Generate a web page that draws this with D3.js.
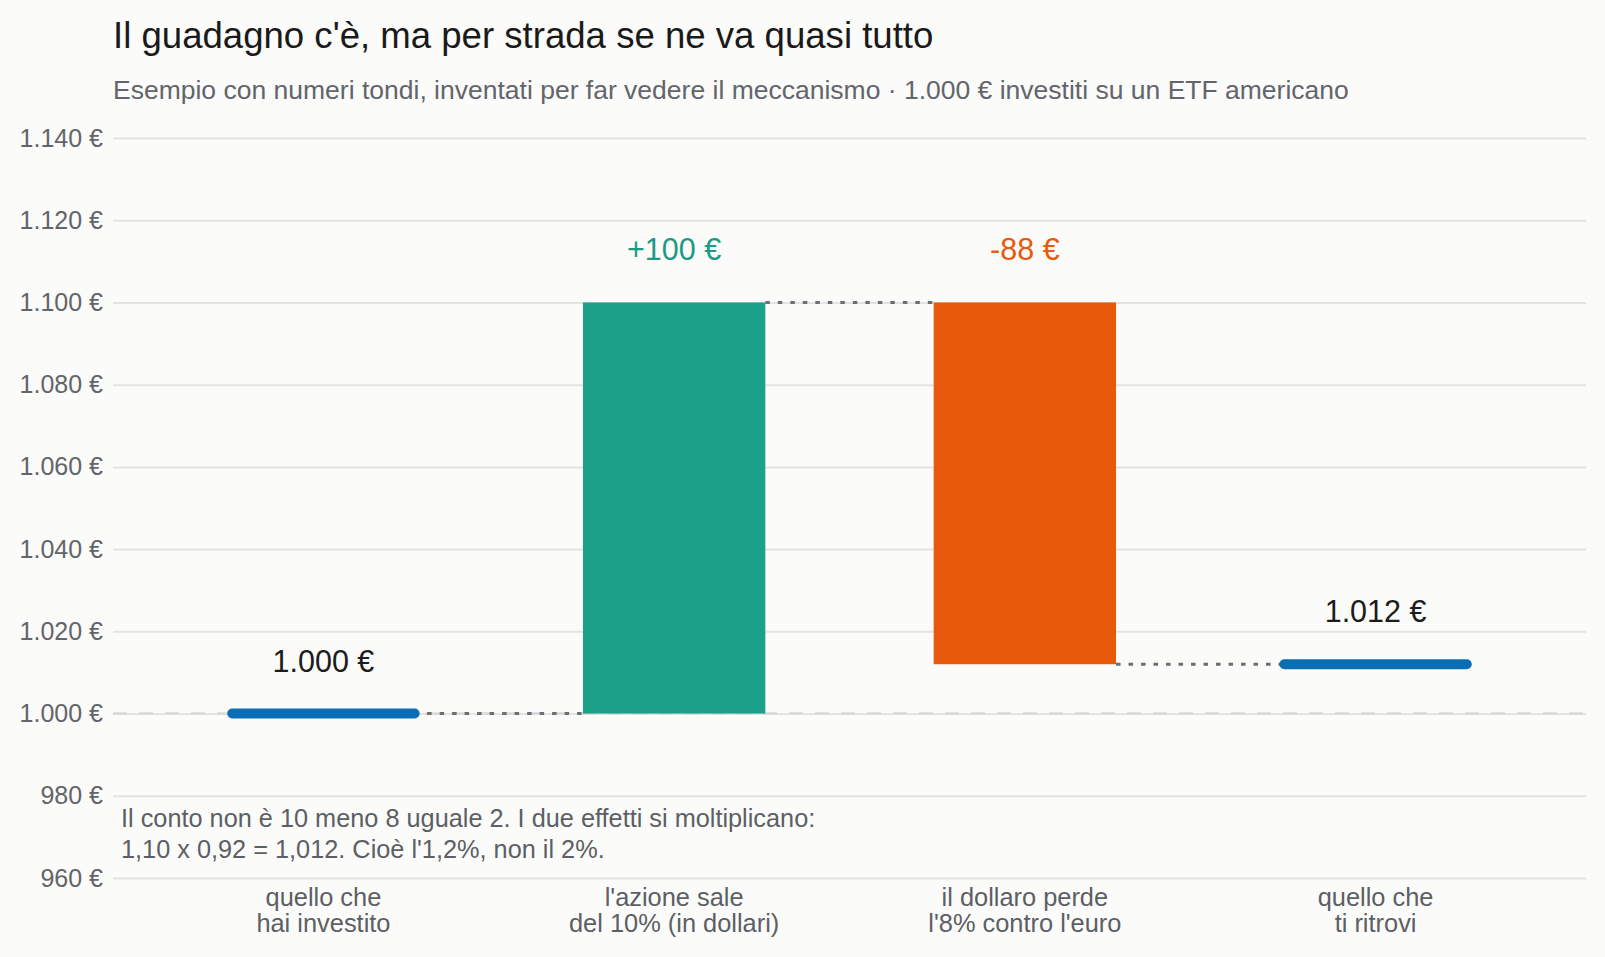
<!DOCTYPE html>
<html lang="it">
<head>
    <meta charset="UTF-8">
    <title>Il guadagno c'è, ma per strada se ne va quasi tutto</title>
    <script src="https://d3js.org/d3.v7.min.js"></script>
    <style>
        body {
            margin: 0;
            background: #fbfbf9;
            font-family: 'Liberation Sans', Arial, Helvetica, sans-serif;
        }
        svg { display: block; }
        .grid line { stroke: #e3e3e1; stroke-width: 2; }
        .grid path { display: none; }
        .y-axis text { fill: #62656b; font-size: 25px; }
        .x-label { fill: #5c5f65; font-size: 25.4px; }
    </style>
</head>
<body>
<svg id="chart" width="1605" height="957"></svg>
<script>
// data
const categories = [
    ['quello che', 'hai investito'],
    ["l'azione sale", 'del 10% (in dollari)'],
    ['il dollaro perde', "l'8% contro l'euro"],
    ['quello che', 'ti ritrovi']
];
const steps = [1000, 100, -88, 1012];
const stepTypes = ['total', 'up', 'down', 'total'];
const yTicks = [960, 980, 1000, 1020, 1040, 1060, 1080, 1100, 1120, 1140];

const colors = { total: '#0b6eb4', up: '#1ba08a', down: '#e8590c' };
const labelColors = { total: '#1c1c1c', up: '#1b9a85', down: '#e8590c' };

const width = 1605, height = 957;
const margin = { top: 138, right: 19, bottom: 79, left: 113 };

const svg = d3.select('#chart');

const it = d3.formatLocale({ decimal: ',', thousands: '.', grouping: [3], currency: ['', ' €'], minus: '-' });
const euro = v => it.format(',.0f')(v) + ' €';
const signed = v => (v > 0 ? '+' : '') + it.format(',.0f')(v) + ' €';

// running levels for the waterfall
let level = 0;
const bars = steps.map((v, i) => {
    let y0, y1;
    if (stepTypes[i] === 'total') {
        y0 = v; y1 = v; level = v;
    } else {
        y0 = level; y1 = level + v; level = y1;
    }
    return { i, v, type: stepTypes[i], y0, y1 };
});

const x = d3.scaleBand()
    .domain(d3.range(categories.length))
    .range([margin.left, width - margin.right])
    .paddingInner(0.48)
    .paddingOuter(0.34);

const y = d3.scaleLinear()
    .domain([960, 1140])
    .range([height - margin.bottom, margin.top]);

// title
svg.append('text')
    .attr('x', margin.left).attr('y', 48)
    .attr('fill', '#1a1a1a')
    .style('font-size', '36.6px')
    .text("Il guadagno c'è, ma per strada se ne va quasi tutto");

svg.append('text')
    .attr('x', margin.left).attr('y', 99)
    .attr('fill', '#62656b')
    .style('font-size', '26.5px')
    .text('Esempio con numeri tondi, inventati per far vedere il meccanismo · 1.000 € investiti su un ETF americano');

// grid + y labels
svg.append('g')
    .attr('class', 'grid')
    .attr('transform', `translate(${margin.left},0)`)
    .call(d3.axisLeft(y).tickValues(yTicks).tickSize(-(width - margin.left - margin.right)).tickFormat(''))
    .call(g => g.selectAll('line').attr('x1', 0));

svg.append('g')
    .attr('class', 'y-axis')
    .attr('transform', `translate(${margin.left},0)`)
    .call(d3.axisLeft(y).tickValues(yTicks).tickSize(0).tickPadding(10).tickFormat(euro))
    .call(g => g.select('.domain').remove());

// dashed baseline at the starting amount
svg.append('line')
    .attr('x1', margin.left).attr('x2', width - margin.right)
    .attr('y1', y(steps[0])).attr('y2', y(steps[0]))
    .attr('stroke', '#d9d9d7')
    .attr('stroke-width', 2.5)
    .attr('stroke-dasharray', '14,12');

// connectors
for (let i = 0; i < bars.length - 1; i++) {
    svg.append('line')
        .attr('x1', x(i) + x.bandwidth()).attr('x2', x(i + 1))
        .attr('y1', y(bars[i].y1)).attr('y2', y(bars[i].y1))
        .attr('stroke', '#6b6e72')
        .attr('stroke-width', 3)
        .attr('stroke-dasharray', '4.5,8');
}

// delta bars
svg.selectAll('rect.step')
    .data(bars.filter(d => d.type !== 'total'))
    .enter().append('rect')
    .attr('class', 'step')
    .attr('x', d => x(d.i))
    .attr('width', x.bandwidth())
    .attr('y', d => y(Math.max(d.y0, d.y1)))
    .attr('height', d => Math.abs(y(d.y0) - y(d.y1)))
    .attr('fill', d => colors[d.type]);

// totals drawn as thick lines
svg.selectAll('line.total')
    .data(bars.filter(d => d.type === 'total'))
    .enter().append('line')
    .attr('class', 'total')
    .attr('x1', d => x(d.i)).attr('x2', d => x(d.i) + x.bandwidth())
    .attr('y1', d => y(d.v)).attr('y2', d => y(d.v))
    .attr('stroke', colors.total)
    .attr('stroke-width', 10)
    .attr('stroke-linecap', 'round');

// value labels
svg.selectAll('text.value')
    .data(bars)
    .enter().append('text')
    .attr('class', 'value')
    .attr('x', d => x(d.i) + x.bandwidth() / 2)
    .attr('y', d => y(Math.max(d.y0, d.y1)) - 42)
    .attr('text-anchor', 'middle')
    .attr('fill', d => labelColors[d.type])
    .style('font-size', '30.5px')
    .text(d => d.type === 'total' ? euro(d.v) : signed(d.v));

// x labels
const xl = svg.selectAll('text.x-label')
    .data(categories)
    .enter().append('text')
    .attr('class', 'x-label')
    .attr('text-anchor', 'middle')
    .attr('x', (d, i) => x(i) + x.bandwidth() / 2)
    .attr('y', 906);
xl.selectAll('tspan')
    .data(d => d)
    .enter().append('tspan')
    .attr('x', function () { return d3.select(this.parentNode).attr('x'); })
    .attr('dy', (d, j) => j === 0 ? 0 : 26)
    .text(d => d);

// note
const note = [
    'Il conto non è 10 meno 8 uguale 2. I due effetti si moltiplicano:',
    "1,10 x 0,92 = 1,012. Cioè l'1,2%, non il 2%."
];
svg.append('text')
    .attr('x', 121).attr('y', 827)
    .attr('fill', '#5c5f65')
    .style('font-size', '25.3px')
    .selectAll('tspan')
    .data(note)
    .enter().append('tspan')
    .attr('x', 121)
    .attr('dy', (d, j) => j === 0 ? 0 : 31)
    .text(d => d);
</script>
</body>
</html>
